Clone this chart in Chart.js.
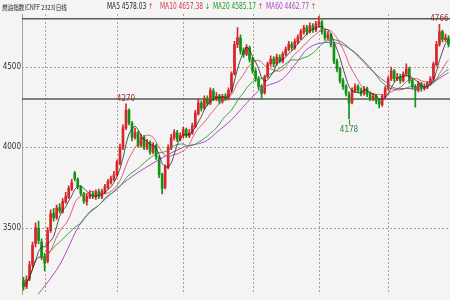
<!DOCTYPE html>
<html>
<head>
<meta charset="utf-8">
<script src="https://cdn.jsdelivr.net/npm/chart.js@4.4.0/dist/chart.umd.min.js"></script>
<style>
	html, body { margin: 0; padding: 0; background: #f4f4f4; }
	#wrap { position: relative; width: 450px; height: 300px; overflow: hidden; background: #f4f4f4; }
	#chart { position: absolute; left: 0; top: 0; }
	.hdr { position: absolute; top: 2px; font: 8px "Liberation Sans Narrow", "DejaVu Sans Condensed", sans-serif; line-height: 10px; white-space: nowrap; transform: scaleX(0.82); transform-origin: left top; }
	#title { left: 2px; font-family: "Noto Sans CJK SC", sans-serif; font-size: 7px; color: #222; transform: scaleX(0.8); }
</style>
</head>
<body>
<div id="wrap">
	<canvas id="chart" width="450" height="300"></canvas>
	<div id="title" class="hdr">燃油指数(CNFF 2323)日线</div>
	<div id="legend"></div>
</div>
<script>
// daily candles
const opens = [3170,3130,3180,3270,3400,3495,3410,3320,3290,3480,
	3590,3560,3625,3600,3660,3690,3740,3840,3800,3750,
	3710,3660,3690,3710,3690,3720,3690,3720,3750,3780,
	3800,3830,3900,3995,4120,4230,4150,4060,4090,4010,
	4060,3995,4030,3970,4010,3935,3830,3750,3875,3995,
	4060,4090,4050,4070,4110,4070,4090,4130,4210,4275,
	4245,4305,4275,4350,4300,4320,4285,4320,4305,4355,
	4455,4640,4680,4600,4580,4620,4550,4475,4425,4380,
	4340,4440,4520,4550,4520,4560,4535,4580,4610,4640,
	4620,4655,4680,4715,4745,4720,4755,4730,4765,4780,
	4720,4680,4700,4640,4535,4490,4415,4380,4330,4280,
	4350,4380,4355,4335,4365,4330,4300,4320,4290,4265,
	4315,4365,4425,4475,4425,4440,4415,4455,4490,4415,
	4380,4355,4395,4365,4375,4395,4425,4515,4640,4720,
	4670,4680];
const closes = [3134,3176,3268,3390,3500,3420,3317,3280,3481,3585,
	3561,3622,3603,3664,3695,3744,3780,3805,3756,3713,
	3664,3695,3707,3695,3719,3695,3725,3756,3786,3805,
	3829,3908,4000,4122,4232,4152,4061,4092,4012,4061,
	4000,4030,3970,4012,3939,3829,3744,3878,4000,4061,
	4092,4049,4073,4110,4073,4092,4134,4214,4275,4244,
	4305,4275,4354,4305,4317,4287,4317,4305,4354,4458,
	4641,4683,4598,4580,4622,4549,4476,4427,4378,4336,
	4439,4519,4549,4519,4561,4537,4580,4610,4641,4622,
	4659,4683,4720,4744,4720,4756,4732,4769,4781,4720,
	4683,4702,4641,4537,4488,4415,4378,4336,4275,4354,
	4378,4354,4336,4366,4329,4305,4317,4287,4268,4317,
	4366,4427,4476,4427,4439,4415,4458,4488,4415,4378,
	4354,4397,4366,4378,4397,4427,4519,4641,4720,4671,
	4683,4641];
const highs = [3190,3200,3290,3410,3530,3540,3430,3340,3500,3610,
	3620,3640,3650,3680,3720,3760,3800,3850,3810,3760,
	3720,3710,3730,3725,3735,3740,3740,3770,3800,3820,
	3850,3920,4020,4140,4270,4240,4160,4120,4100,4080,
	4075,4050,4040,4030,4020,3945,3840,3890,4015,4080,
	4110,4105,4090,4125,4120,4110,4150,4230,4300,4290,
	4320,4320,4370,4365,4340,4330,4330,4335,4370,4470,
	4660,4745,4700,4620,4640,4630,4560,4490,4440,4390,
	4450,4530,4570,4565,4580,4575,4595,4625,4660,4655,
	4675,4700,4735,4760,4760,4775,4770,4785,4815,4790,
	4735,4720,4710,4650,4550,4500,4430,4390,4345,4370,
	4395,4390,4370,4380,4375,4345,4335,4330,4300,4330,
	4380,4440,4500,4485,4460,4455,4470,4520,4500,4425,
	4390,4410,4405,4395,4410,4440,4530,4660,4766,4730,
	4705,4695];
const lows = [3110,3120,3170,3255,3380,3400,3300,3230,3280,3470,
	3540,3550,3590,3590,3650,3680,3730,3790,3740,3700,
	3650,3640,3680,3680,3675,3680,3680,3710,3740,3770,
	3790,3820,3890,3985,4110,4140,4040,4050,4000,4000,
	3985,3985,3955,3960,3925,3810,3710,3740,3865,3985,
	4045,4035,4040,4060,4060,4060,4080,4120,4200,4225,
	4235,4260,4265,4290,4290,4270,4275,4290,4295,4345,
	4450,4620,4580,4560,4570,4530,4460,4410,4360,4300,
	4330,4430,4505,4500,4510,4525,4525,4570,4600,4605,
	4610,4645,4670,4705,4700,4710,4715,4720,4750,4705,
	4665,4670,4625,4520,4470,4400,4360,4320,4178,4270,
	4340,4340,4320,4325,4315,4290,4290,4270,4245,4255,
	4305,4355,4415,4410,4415,4400,4405,4445,4400,4360,
	4250,4345,4350,4355,4365,4385,4415,4505,4630,4655,
	4660,4625];

const ma60Idx = [3, 12, 19, 25, 34, 42, 53, 61, 64, 69, 74, 79, 86, 91, 94, 102, 107, 111, 115, 120, 124, 131, 135, 141];
const ma60Val = [3040, 3268, 3530, 3640, 3790, 3890, 4000, 4043, 4092, 4171, 4275, 4366, 4427, 4537, 4610, 4653, 4628, 4567, 4488, 4409, 4366, 4366, 4397, 4465];

const yTicks = [3500, 4000, 4500];
const levelLines = [4800, 4300];
const monthStarts = [7, 31, 53, 76, 98, 121];

const markIdx = [34, 108, 138];
const markVal = [4270, 4178, 4766];

const maNames = ["MA5", "MA10", "MA20", "MA60"];
const maLast = ["4578.03", "4657.38", "4585.17", "4462.77"];
const maDir = ["↑", "↓", "↑", "↑"];

const RED = "#d8262b";
const GREEN = "#129212";
const maColors = ["#262626", "#d8384f", "#1f9a2a", "#b548c8"];
const legendLeft = [107, 160, 213, 266];
const markColors = ["#9a3030", "#2e8a2e", "#9a3030"];
const markBelow = [false, true, false];

const days = closes.map((_, i) => i + 1);

const movingAverage = n => closes.map((_, i) => {
	const from = Math.max(0, i - n + 1);
	const slice = closes.slice(from, i + 1);
	return slice.reduce((a, b) => a + b, 0) / slice.length;
});

const ma60Series = days.map(() => null);
ma60Idx.forEach((idx, k) => { ma60Series[idx] = ma60Val[k]; });

const candleColors = closes.map((c, i) => (c >= opens[i] ? RED : GREEN));

const legend = document.getElementById("legend");
legend.innerHTML = maNames.map((name, i) => {
	const arrowColor = maDir[i] === "↑" ? RED : GREEN;
	return `<div class="hdr" style="left:${legendLeft[i]}px;color:${maColors[i]}">${name} ${maLast[i]} <span style="color:${arrowColor}">${maDir[i]}</span></div>`;
}).join("");

const guides = {
	id: "guides",
	beforeDatasetsDraw(chart) {
		const { ctx, chartArea, scales } = chart;
		ctx.save();
		ctx.strokeStyle = "#a6a68c";
		ctx.lineWidth = 1;
		ctx.setLineDash([2, 2]);
		yTicks.forEach(v => {
			const y = Math.round(scales.y.getPixelForValue(v)) + 0.5;
			ctx.beginPath();
			ctx.moveTo(chartArea.left, y);
			ctx.lineTo(chartArea.right, y);
			ctx.stroke();
		});
		monthStarts.forEach(i => {
			const x = Math.round(scales.x.getPixelForValue(i)) + 0.5;
			ctx.beginPath();
			ctx.moveTo(x, chartArea.top);
			ctx.lineTo(x, chartArea.bottom);
			ctx.stroke();
		});
		ctx.setLineDash([]);
		ctx.strokeStyle = "#5a5a5a";
		ctx.lineWidth = 1.5;
		levelLines.forEach(v => {
			const y = scales.y.getPixelForValue(v);
			ctx.beginPath();
			ctx.moveTo(chartArea.left, y);
			ctx.lineTo(chartArea.right, y);
			ctx.stroke();
		});
		ctx.restore();
	},
	afterDatasetsDraw(chart) {
		const { ctx, scales } = chart;
		ctx.save();
		ctx.font = '8px "Liberation Sans Narrow", "DejaVu Sans Condensed", sans-serif';
		ctx.textAlign = "center";
		markIdx.forEach((idx, k) => {
			const x = scales.x.getPixelForValue(idx);
			const y = scales.y.getPixelForValue(markVal[k]);
			ctx.fillStyle = markColors[k];
			if (markBelow[k]) {
				ctx.strokeStyle = markColors[k];
				ctx.lineWidth = 1;
				ctx.beginPath();
				ctx.moveTo(Math.round(x) + 0.5, y + 1);
				ctx.lineTo(Math.round(x) + 0.5, y + 6);
				ctx.stroke();
				ctx.textBaseline = "top";
				ctx.fillText(String(markVal[k]), x, y + 7);
			} else {
				ctx.textBaseline = "bottom";
				ctx.fillText(String(markVal[k]), x, y - 1);
			}
		});
		ctx.restore();
	}
};

new Chart(document.getElementById("chart"), {
	type: "bar",
	data: {
		labels: days,
		datasets: [
			{
				type: "line", label: "MA5", data: movingAverage(5), borderColor: maColors[0],
				borderWidth: 0.8, pointRadius: 0, tension: 0.2, order: 0
			},
			{
				type: "line", label: "MA10", data: movingAverage(10), borderColor: maColors[1],
				borderWidth: 0.8, pointRadius: 0, tension: 0.2, order: 0
			},
			{
				type: "line", label: "MA20", data: movingAverage(20), borderColor: maColors[2],
				borderWidth: 0.9, pointRadius: 0, tension: 0.3, order: 0
			},
			{
				type: "line", label: "MA60", data: ma60Series, borderColor: maColors[3],
				borderWidth: 1, pointRadius: 0, spanGaps: true, cubicInterpolationMode: "monotone", order: 0
			},
			{
				label: "body", data: opens.map((o, i) => [o, closes[i]]), backgroundColor: candleColors,
				barThickness: 2, minBarLength: 1, grouped: false, borderWidth: 0, order: 1
			},
			{
				label: "wick", data: lows.map((l, i) => [l, highs[i]]), backgroundColor: candleColors,
				barThickness: 1, grouped: false, borderWidth: 0, order: 2
			}
		]
	},
	options: {
		responsive: false,
		animation: false,
		devicePixelRatio: 1,
		layout: { padding: { top: 14, right: 0, bottom: 0, left: 0 } },
		plugins: { legend: { display: false }, tooltip: { enabled: false } },
		scales: {
			x: { display: false, offset: true, grid: { display: false } },
			y: {
				min: 3085,
				max: 4830,
				afterBuildTicks: scale => { scale.ticks = yTicks.map(v => ({ value: v })); },
				afterFit: scale => { scale.width = 22; },
				ticks: {
					color: "#333",
					padding: 1,
					callback: v => String(v),
					font: { family: '"Liberation Sans Narrow", "DejaVu Sans Condensed", sans-serif', size: 8 }
				},
				grid: { display: false, drawTicks: false, tickLength: 0 },
				border: { display: true, color: "#a3a388", width: 1 }
			}
		}
	},
	plugins: [guides]
});
</script>
</body>
</html>
